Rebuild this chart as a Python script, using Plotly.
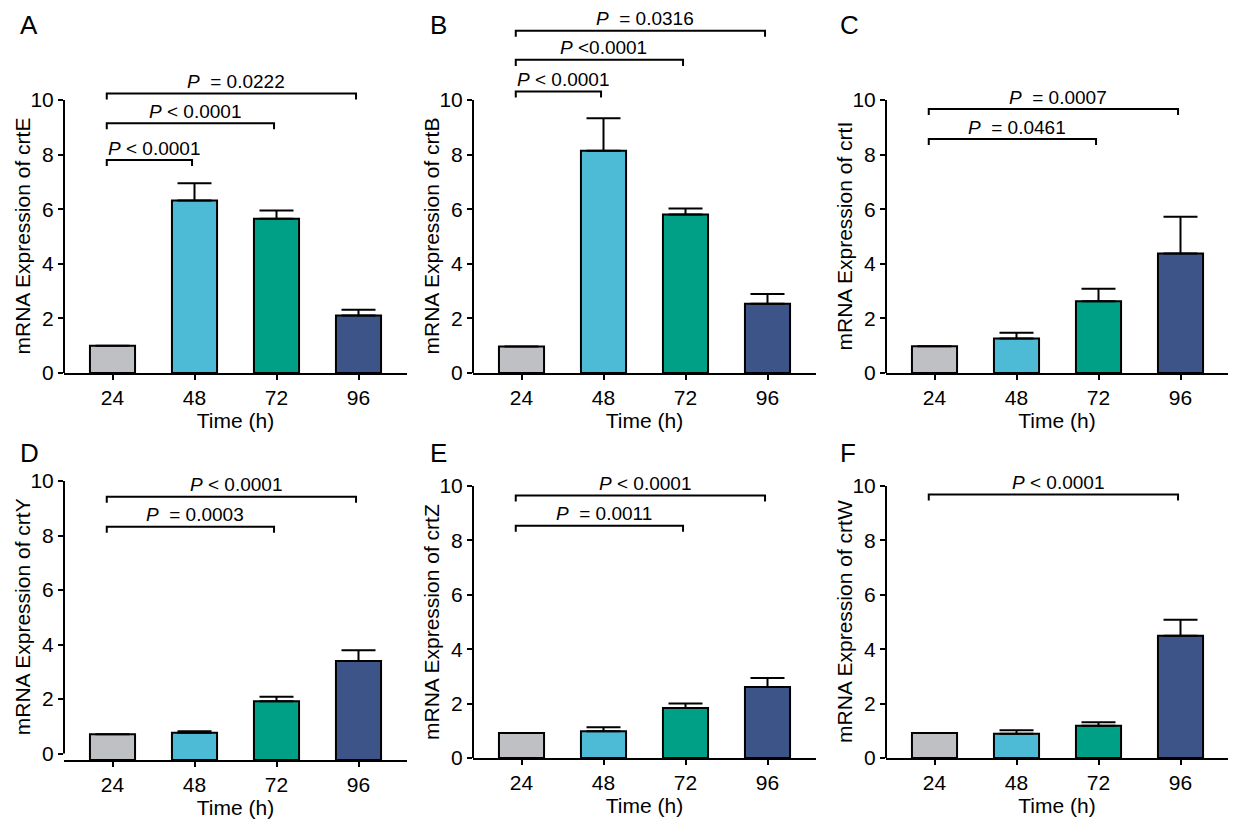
import plotly.graph_objects as go

W, H = 1241, 827
FONT = 'Liberation Sans, Arial, sans-serif'

times = ['24', '48', '72', '96']
bar_colors = ['#BEC0C4', '#4DBBD5', '#00A087', '#3C5488']

crtE = [1.00, 6.32, 5.65, 2.11]
crtE_sem = [0.00, 0.63, 0.30, 0.21]
crtB = [0.97, 8.14, 5.81, 2.54]
crtB_sem = [0.00, 1.19, 0.22, 0.35]
crtI = [0.98, 1.26, 2.63, 4.38]
crtI_sem = [0.00, 0.21, 0.46, 1.34]
crtY = [0.71, 0.76, 1.92, 3.39]
crtY_sem = [0.00, 0.06, 0.16, 0.40]
crtZ = [0.92, 0.98, 1.84, 2.61]
crtZ_sem = [0.00, 0.15, 0.16, 0.33]
crtW = [0.92, 0.89, 1.19, 4.49]
crtW_sem = [0.00, 0.13, 0.12, 0.59]

# significance brackets: (from, to, height, label)
crtE_sig = [(0, 1, 7.80, 'P < 0.0001'), (0, 2, 9.15, 'P < 0.0001'), (0, 3, 10.24, 'P  = 0.0222')]
crtB_sig = [(0, 1, 10.31, 'P < 0.0001'), (0, 2, 11.47, 'P <0.0001'), (0, 3, 12.54, 'P  = 0.0316')]
crtI_sig = [(0, 2, 8.57, 'P  = 0.0461'), (0, 3, 9.67, 'P  = 0.0007')]
crtY_sig = [(0, 2, 8.32, 'P  = 0.0003'), (0, 3, 9.42, 'P < 0.0001')]
crtZ_sig = [(0, 2, 8.54, 'P  = 0.0011'), (0, 3, 9.65, 'P < 0.0001')]
crtW_sig = [(0, 3, 9.69, 'P < 0.0001')]

# letter, gene, means, sem, brackets, y-axis px, right px, zero px, ten px, x-axis px, top px, letter pos
panels = [
    ('A', 'crtE', crtE, crtE_sem, crtE_sig, 64, 407, 373, 100, 373, 0, (18, 25)),
    ('B', 'crtB', crtB, crtB_sem, crtB_sig, 473, 816, 373, 100, 373, 0, (428, 25)),
    ('C', 'crtI', crtI, crtI_sem, crtI_sig, 886, 1228, 373, 100, 373, 0, (838, 25)),
    ('D', 'crtY', crtY, crtY_sem, crtY_sig, 64, 407, 753.5, 481, 760, 440, (18, 453)),
    ('E', 'crtZ', crtZ, crtZ_sem, crtZ_sig, 473, 816, 758, 486, 758, 440, (428, 453)),
    ('F', 'crtW', crtW, crtW_sem, crtW_sig, 886, 1228, 758, 486, 758, 440, (838, 453)),
]

fig = go.Figure()
shapes = []
annotations = []
layout = {}
step = 82.0  # px between bars
pad = 48.5   # px from y axis to first bar centre

for n, (letter, gene, vals, sem, sig, xl, xr, y0px, y10px, axpx, toppx, lpos) in enumerate(panels, start=1):
    xa = 'x' if n == 1 else f'x{n}'
    ya = 'y' if n == 1 else f'y{n}'
    scale = (y0px - y10px) / 10.0
    ybot = -(axpx - y0px) / scale
    ytop = (y0px - toppx) / scale
    xleft = -pad / step
    xright = xleft + (xr - xl) / step

    fig.add_trace(go.Bar(
        x=[0, 1, 2, 3], y=[v - ybot for v in vals], base=ybot,
        width=0.55, marker=dict(color=bar_colors, line=dict(color='black', width=2)),
        error_y=dict(type='data', array=sem, arrayminus=[0] * 4, symmetric=False,
                     color='black', thickness=2, width=17),
        xaxis=xa, yaxis=ya, showlegend=False))

    layout['xaxis' if n == 1 else f'xaxis{n}'] = dict(
        domain=[xl / W, xr / W], anchor=ya, range=[xleft, xright], automargin=False,
        tickvals=[0, 1, 2, 3], ticktext=times, showline=True, linecolor='black',
        linewidth=2, ticks='outside', ticklen=5, tickwidth=2, tickcolor='black',
        showgrid=False, zeroline=False, tickfont=dict(size=21, family=FONT, color='black'),
        title=dict(text='Time (h)', standoff=3, font=dict(size=21, family=FONT, color='black')))
    layout['yaxis' if n == 1 else f'yaxis{n}'] = dict(
        domain=[1 - axpx / H, 1 - toppx / H], anchor=xa, range=[ybot, ytop], automargin=False,
        tickvals=[0, 2, 4, 6, 8, 10], showline=False, ticks='outside', ticklen=5,
        tickwidth=2, tickcolor='black', showgrid=False, zeroline=False,
        tickfont=dict(size=21, family=FONT, color='black'))

    # y axis line only from 0 to 10
    shapes.append(dict(type='line', xref=f'{xa} domain', yref=ya, x0=0, x1=0, y0=0, y1=10,
                       line=dict(color='black', width=2)))
    annotations.append(dict(xref=f'{xa} domain', yref=ya, x=0, y=5, xshift=-42,
                            text=f'mRNA Expression of {gene}', textangle=-90, showarrow=False,
                            xanchor='center', yanchor='middle',
                            font=dict(size=21, family=FONT, color='black')))
    annotations.append(dict(xref='paper', yref='paper', x=lpos[0] / W, y=1 - lpos[1] / H,
                            text=letter, showarrow=False, xanchor='left', yanchor='middle',
                            font=dict(size=26, family=FONT, color='black')))

    for i, j, h, label in sig:
        x0, x1, d = i - 0.07, j - 0.03, 0.22
        shapes.append(dict(type='path', xref=xa, yref=ya,
                           path=f'M {x0},{h - d} L {x0},{h} L {x1},{h} L {x1},{h - d}',
                           line=dict(color='black', width=2)))
        txt = '<i>P</i>' + label[1:].replace(' ', '\u00a0')
        annotations.append(dict(xref=xa, yref=ya, x=(x0 + x1) / 2 + 0.05, y=h, yshift=12,
                                text=txt, showarrow=False, xanchor='center', yanchor='middle',
                                font=dict(size=19, family=FONT, color='black')))

fig.update_layout(**layout)
fig.update_layout(width=W, height=H, margin=dict(l=0, r=0, t=0, b=0, pad=0, autoexpand=False),
                  plot_bgcolor='white', paper_bgcolor='white',
                  shapes=shapes, annotations=annotations)

fig.write_html('out.html', post_script="document.body.style.margin='0px';",
               config={'displayModeBar': False})
